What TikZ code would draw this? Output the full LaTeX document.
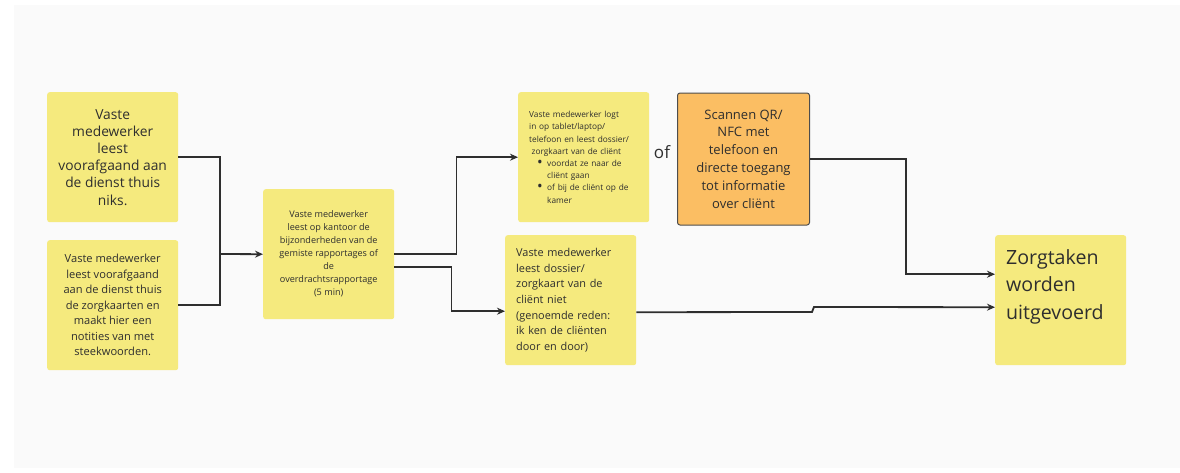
\documentclass[tikz,border=0pt]{standalone}
\usepackage{fontspec}
\setmainfont{Open Sans}
\usetikzlibrary{arrows.meta,calc}
\definecolor{sticky}{HTML}{F5EA7E}
\definecolor{orangebox}{HTML}{FBBE63}
\definecolor{ink}{HTML}{2E2E2E}
\definecolor{bggray}{HTML}{FAFAFA}
\newcommand{\bigdot}{\makebox[10pt][l]{\raisebox{-0.6pt}{\fontsize{15}{15}\selectfont\textbullet}}}
\tikzset{
  box/.style={fill=sticky, rounded corners=2.5pt, minimum width=131pt, minimum height=130pt, anchor=north west, inner sep=0pt, text=ink, align=center},
  leftbox/.style={box, align=left, text width=109pt, inner xsep=11pt},
  conn/.style={draw=ink, line width=1.8pt},
  arr/.style={conn, -{Stealth[length=8pt,width=7pt]}},
}
\begin{document}
\begin{tikzpicture}[x=1pt,y=-1pt]
\useasboundingbox (0,0) rectangle (1180,472);
\fill[white] (0,0) rectangle (1180,472);
\fill[bggray] (14,5) rectangle (1180,468);

\node[box, font=\fontsize{13.8}{17.2}\selectfont] (A) at (47,92) {Vaste\\medewerker\\leest\\voorafgaand aan\\de dienst thuis\\niks.};
\node[box, font=\fontsize{11.1}{15.5}\selectfont] (B) at (47,240) {Vaste medewerker\\leest voorafgaand\\aan de dienst thuis\\de zorgkaarten en\\maakt hier een\\notities van met\\steekwoorden.};
\node[box, font=\fontsize{9.1}{13}\selectfont] (C) at (263,189) {Vaste medewerker\\leest op kantoor de\\bijzonderheden van de\\gemiste rapportages of\\de\\overdrachtsrapportage\\(5 min)};
\node[leftbox, font=\fontsize{8.3}{12.2}\selectfont] (D) at (518,92) {Vaste medewerker logt\\
in op tablet/laptop/\\
telefoon en leest dossier/\\
\hspace{2.5pt}zorgkaart van de cliënt\\
\hspace{8pt}\bigdot voordat ze naar de\\
\hspace{18pt}cliënt gaan\\
\hspace{8pt}\bigdot of bij de cliënt op de\\
\hspace{18pt}kamer};
\node[box, fill=orangebox, draw=ink!85, line width=1pt, minimum width=132pt, minimum height=132pt, font=\fontsize{13}{17.8}\selectfont] (E) at (677,92.5) {Scannen QR/\\NFC met\\telefoon en\\directe toegang\\tot informatie\\over cliënt};
\node[text=ink, font=\fontsize{17}{20}\selectfont, anchor=center] (of) at (662,152) {of};
\node[leftbox, font=\fontsize{10.9}{15.6}\selectfont] (F) at (505,235) {Vaste medewerker\\leest dossier/\\zorgkaart van de\\cliënt niet\\(genoemde reden:\\ik ken de cliënten\\door en door)};
\node[box] (G) at (995,235) {};
\node[anchor=north west, inner sep=0pt, align=left, text=ink, font=\fontsize{19.6}{27.5}\selectfont] (Gt) at (1006,249) {Zorgtaken\\worden\\uitgevoerd};

\coordinate (J1) at (220,254);
\draw[conn] (A.east) -| (J1);
\draw[conn] (B.east) -| (J1);
\draw[arr] (J1) -- (C.west);
\draw[arr] (C.east) -- ++(62,0) |- (D.west);
\draw[arr] ($(C.east)+(0,13)$) -- ++(57,0) |- ($(F.west)+(0,11)$);
\draw[arr] (E.east) -- ++(96,0) |- ($(G.west)+(0,-26)$);
\coordinate (K1) at (812,312);
\coordinate (K2) at (814,307);
\draw[arr] ($(F.east)+(0,12)$) -- (K1) -- (K2) -- ($(G.west)+(0,7)$);
\end{tikzpicture}
\end{document}
